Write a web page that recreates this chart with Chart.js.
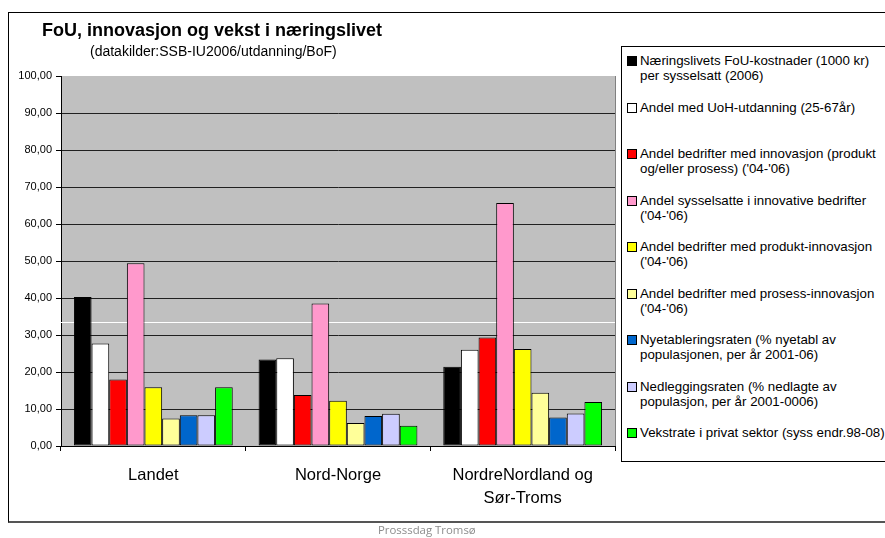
<!DOCTYPE html>
<html lang="no">
<head>
<meta charset="UTF-8">
<title>FoU, innovasjon og vekst i næringslivet</title>
<script src="https://cdn.jsdelivr.net/npm/chart.js"></script>
<style>
  body { margin: 0; width: 885px; height: 538px; overflow: hidden; background: #fff; position: relative; font-family: "Liberation Sans", Arial, sans-serif; }
  #frame { position: absolute; left: 8px; top: 12px; width: 900px; height: 508px; border: 1px solid #000; border-bottom: 2px solid #555; }
  #chart { position: absolute; left: 0; top: 0; }
  #title { position: absolute; left: 42px; top: 20px; font-weight: bold; font-size: 18px; line-height: 20px; white-space: nowrap; }
  #subtitle { position: absolute; left: 90px; top: 43px; font-size: 14px; line-height: 17px; white-space: nowrap; }
  #legend { position: absolute; left: 621px; top: 46px; width: 300px; height: 414px; border: 1px solid #000; background: #fff; }
  .item { position: absolute; left: 5px; font-size: 13.3px; line-height: 15px; white-space: nowrap; }
  .box { position: absolute; left: 0; top: 3px; width: 8px; height: 8px; border: 1px solid #000; }
  .txt { position: absolute; left: 13px; top: 0; }
  #footer { position: absolute; left: 378px; top: 522px; font-family: "Open Sans", sans-serif; font-size: 11.4px; color: #8c8c8c; white-space: nowrap; }
</style>
</head>
<body>
<div id="frame"></div>
<canvas id="chart" width="885" height="538"></canvas>
<div id="title">FoU, innovasjon og vekst i næringslivet</div>
<div id="subtitle">(datakilder:SSB-IU2006/utdanning/BoF)</div>
<div id="legend"></div>
<div id="footer">Prosssdag Tromsø</div>

<script>
  // regions on the x axis
  const categories = ['Landet', 'Nord-Norge', ['NordreNordland og', 'Sør-Troms']];

  // series names (legend text, line breaks as in the original)
  const seriesNames = [
    'Næringslivets FoU-kostnader (1000 kr)\nper sysselsatt (2006)',
    'Andel med UoH-utdanning (25-67år)',
    'Andel bedrifter med innovasjon (produkt\nog/eller prosess) (\'04-\'06)',
    'Andel sysselsatte i innovative bedrifter\n(\'04-\'06)',
    'Andel bedrifter med produkt-innovasjon\n(\'04-\'06)',
    'Andel bedrifter med prosess-innovasjon\n(\'04-\'06)',
    'Nyetableringsraten (% nyetabl av\npopulasjonen, per år 2001-06)',
    'Nedleggingsraten (% nedlagte av\npopulasjon, per år 2001-0006)',
    'Vekstrate i privat sektor (syss endr.98-08)'
  ];

  // values per series: Landet, Nord-Norge, NordreNordland og Sør-Troms
  const fouKostnader   = [40.3, 23.4, 21.4];
  const uohUtdanning   = [27.7, 23.7, 26.0];
  const innovasjon     = [18.0, 13.8, 29.3];
  const sysselsatteInn = [49.4, 38.5, 65.7];
  const produktInn     = [15.9, 12.2, 26.2];
  const prosessInn     = [7.4, 6.2, 14.4];
  const nyetablering   = [8.3, 8.1, 7.7];
  const nedlegging     = [8.3, 8.7, 8.8];
  const vekstrate      = [15.9, 5.5, 11.9];

  const seriesValues = [fouKostnader, uohUtdanning, innovasjon, sysselsatteInn, produktInn,
                        prosessInn, nyetablering, nedlegging, vekstrate];
  const seriesColors = ['#000000', '#ffffff', '#ff0000', '#ff99cc', '#ffff00',
                        '#ffff99', '#0066cc', '#ccccff', '#00ff00'];

  const yMin = 0, yMax = 100, yStep = 10;
  const whiteLineValue = 33.5; // the stray white line in the plot area

  const plotBackground = {
    id: 'plotBackground',
    beforeDraw(chart) {
      const { ctx, chartArea: a } = chart;
      ctx.save();
      ctx.fillStyle = '#c0c0c0';
      ctx.fillRect(a.left, a.top, a.right - a.left, a.bottom - a.top);
      ctx.strokeStyle = '#808080';
      ctx.lineWidth = 1;
      ctx.beginPath();
      ctx.moveTo(a.right + 0.5, a.top);
      ctx.lineTo(a.right + 0.5, a.bottom);
      ctx.stroke();
      ctx.restore();
    },
    beforeDatasetsDraw(chart) {
      const { ctx, chartArea: a, scales } = chart;
      const y = Math.round(scales.y.getPixelForValue(whiteLineValue)) + 0.5;
      ctx.save();
      ctx.strokeStyle = '#ffffff';
      ctx.lineWidth = 1;
      ctx.beginPath();
      ctx.moveTo(a.left, y);
      ctx.lineTo(a.right, y);
      ctx.stroke();
      ctx.restore();
    }
  };

  const ctx = document.getElementById('chart').getContext('2d');
  const myChart = new Chart(ctx, {
    type: 'bar',
    data: {
      labels: categories,
      datasets: seriesNames.map((name, i) => ({
        label: name,
        data: seriesValues[i],
        backgroundColor: seriesColors[i],
        borderColor: '#000000',
        borderWidth: 1,
        borderSkipped: false,
        categoryPercentage: 0.86,
        barPercentage: 1.0
      }))
    },
    options: {
      responsive: false,
      animation: false,
      devicePixelRatio: 1,
      layout: { padding: { top: 76, right: 270, bottom: 0, left: 0 } },
      plugins: {
        legend: { display: false },
        title: { display: false },
        tooltip: { enabled: false }
      },
      scales: {
        x: {
          afterFit(scale) { scale.height = 92; },
          grid: { drawOnChartArea: false, drawTicks: true, tickLength: 5, color: '#000' },
          border: { color: '#000', width: 1 },
          ticks: {
            color: '#000',
            padding: 12,
            maxRotation: 0,
            font: { family: 'Liberation Sans', size: 16.5, lineHeight: 1.45 }
          }
        },
        y: {
          min: yMin,
          max: yMax,
          afterFit(scale) { scale.width = 61; },
          grid: {
            color: (c) => (c.tick && c.tick.value === yMax ? 'rgba(0,0,0,0)' : '#202020'),
            tickColor: '#000',
            tickLength: 5
          },
          border: { color: '#000', width: 1 },
          ticks: {
            stepSize: yStep,
            color: '#000',
            padding: 4,
            font: { family: 'Liberation Sans', size: 11 },
            callback: (v) => v.toFixed(2).replace('.', ',')
          }
        }
      }
    },
    plugins: [plotBackground]
  });

  // legend built from the same series arrays
  const legend = document.getElementById('legend');
  const itemPitch = 46.5;
  seriesNames.forEach((name, i) => {
    const item = document.createElement('div');
    item.className = 'item';
    item.style.top = (6 + i * itemPitch) + 'px';
    const box = document.createElement('div');
    box.className = 'box';
    box.style.background = seriesColors[i];
    const txt = document.createElement('div');
    txt.className = 'txt';
    txt.innerHTML = name.split('\n').map(s => s.replace(/&/g, '&amp;').replace(/</g, '&lt;')).join('<br>');
    item.appendChild(box);
    item.appendChild(txt);
    legend.appendChild(item);
  });
</script>
</body>
</html>
